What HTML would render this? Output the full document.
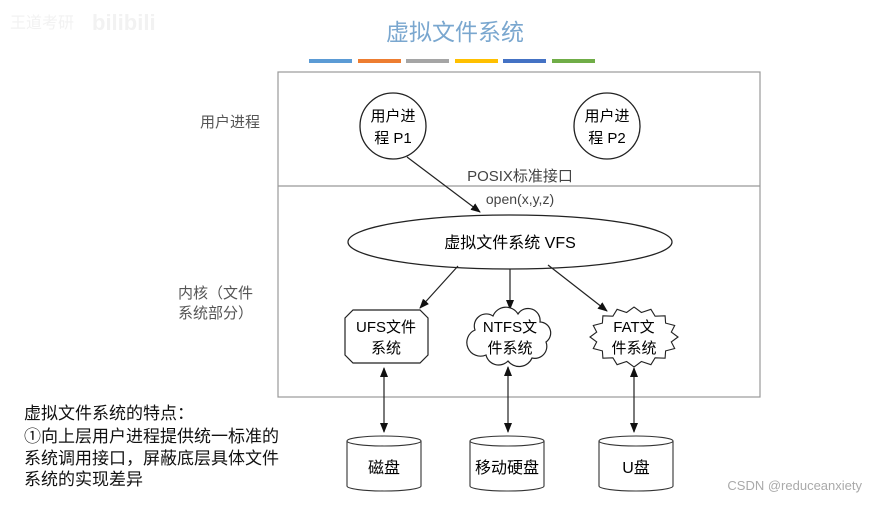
<!DOCTYPE html>
<html><head><meta charset="utf-8"><style>
html,body{margin:0;padding:0;background:#fff;}
svg text{font-family:"Liberation Sans","Noto Sans CJK SC",sans-serif;}
</style></head><body>
<svg width="875" height="500" viewBox="0 0 875 500" xmlns="http://www.w3.org/2000/svg">
<defs>
<marker id="a" markerWidth="10" markerHeight="10" refX="9" refY="5" orient="auto" markerUnits="userSpaceOnUse">
<path d="M0,1 L10,5 L0,9 z" fill="#111"/></marker>
<marker id="s" markerWidth="10" markerHeight="10" refX="1" refY="5" orient="auto" markerUnits="userSpaceOnUse">
<path d="M10,1 L0,5 L10,9 z" fill="#111"/></marker>
</defs>
<text x="10" y="28" font-size="16" fill="#f2f2f2">王道考研</text>
<text x="92" y="30" font-size="22" font-weight="bold" fill="#f2f2f2">bilibili</text>
<text x="455" y="40" font-size="23" fill="#7aa7cf" text-anchor="middle">虚拟文件系统</text>
<g>
<rect x="309" y="59" width="43" height="4" fill="#5b9bd5"/>
<rect x="358" y="59" width="43" height="4" fill="#ed7d31"/>
<rect x="406" y="59" width="43" height="4" fill="#a5a5a5"/>
<rect x="455" y="59" width="43" height="4" fill="#ffc000"/>
<rect x="503" y="59" width="43" height="4" fill="#4472c4"/>
<rect x="552" y="59" width="43" height="4" fill="#70ad47"/>
</g>
<rect x="278" y="72" width="482" height="325" fill="none" stroke="#999" stroke-width="1.2"/>
<line x1="278" y1="186" x2="760" y2="186" stroke="#999" stroke-width="1.2"/>
<text x="230" y="127" font-size="15" fill="#555" text-anchor="middle">用户进程</text>
<text x="178" y="298" font-size="15" fill="#555">内核（文件</text>
<text x="178" y="318" font-size="15" fill="#555">系统部分）</text>
<circle cx="393" cy="126" r="33" fill="#fff" stroke="#222" stroke-width="1.3"/>
<text x="393" y="121" font-size="15" text-anchor="middle">用户进</text>
<text x="393" y="143" font-size="15" text-anchor="middle">程 P1</text>
<circle cx="607" cy="126" r="33" fill="#fff" stroke="#222" stroke-width="1.3"/>
<text x="607" y="121" font-size="15" text-anchor="middle">用户进</text>
<text x="607" y="143" font-size="15" text-anchor="middle">程 P2</text>
<text x="520" y="181" font-size="15" fill="#444" text-anchor="middle">POSIX标准接口</text>
<text x="520" y="204" font-size="14" fill="#444" text-anchor="middle">open(x,y,z)</text>
<line x1="407" y1="157" x2="480" y2="212" stroke="#222" stroke-width="1.2" marker-end="url(#a)"/>
<ellipse cx="510" cy="242" rx="162" ry="27" fill="#fff" stroke="#222" stroke-width="1.3"/>
<text x="510" y="248" font-size="16" text-anchor="middle">虚拟文件系统 VFS</text>
<line x1="458" y1="266" x2="420" y2="308" stroke="#222" stroke-width="1.2" marker-end="url(#a)"/>
<line x1="510" y1="269" x2="510" y2="309" stroke="#222" stroke-width="1.2" marker-end="url(#a)"/>
<line x1="548" y1="265" x2="607" y2="311" stroke="#222" stroke-width="1.2" marker-end="url(#a)"/>
<polygon points="353,310 420,310 428,318 428,355 420,363 353,363 345,355 345,318" fill="#fff" stroke="#222" stroke-width="1.2"/>
<text x="386" y="332" font-size="15" text-anchor="middle">UFS文件</text>
<text x="386" y="353" font-size="15" text-anchor="middle">系统</text>
<path d="M475,330 a12,12 0 0 1 18,-14 a14,14 0 0 1 25,-2 a12,12 0 0 1 22,8 a11,11 0 0 1 6,20 a12,12 0 0 1 -14,16 a14,14 0 0 1 -24,3 a13,13 0 0 1 -22,-6 a11,11 0 0 1 -11,-25 z" fill="#fff" stroke="#222" stroke-width="1.2"/>
<text x="510" y="332" font-size="15" text-anchor="middle">NTFS文</text>
<text x="510" y="353" font-size="15" text-anchor="middle">件系统</text>
<polygon points="678,337 671.3,341.9 674.7,348.5 665.6,350.9 665.1,358.2 655.1,357.8 650.9,364.7 641.4,361.5 634,367 626.6,361.5 617.1,364.7 612.9,357.8 602.9,358.2 602.4,350.9 593.3,348.5 596.7,341.9 590,337 596.7,332.1 593.3,325.5 602.4,323.1 602.9,315.8 612.9,316.2 617.1,309.3 626.6,312.5 634,307 641.4,312.5 650.9,309.3 655.1,316.2 665.1,315.8 665.6,323.1 674.7,325.5 671.3,332.1" fill="#fff" stroke="#222" stroke-width="1.1"/>
<text x="634" y="332" font-size="15" text-anchor="middle">FAT文</text>
<text x="634" y="353" font-size="15" text-anchor="middle">件系统</text>
<g stroke="#222" stroke-width="1.2">
<line x1="384" y1="368" x2="384" y2="432" marker-start="url(#s)" marker-end="url(#a)"/>
<line x1="508" y1="367" x2="508" y2="432" marker-start="url(#s)" marker-end="url(#a)"/>
<line x1="634" y1="368" x2="634" y2="432" marker-start="url(#s)" marker-end="url(#a)"/>
</g>
<g fill="#fff" stroke="#333" stroke-width="1.1">
<path d="M347,441 L347,486 A37,5 0 0 0 421,486 L421,441"/><ellipse cx="384" cy="441" rx="37" ry="5"/>
<path d="M470,441 L470,486 A37,5 0 0 0 544,486 L544,441"/><ellipse cx="507" cy="441" rx="37" ry="5"/>
<path d="M599,441 L599,486 A37,5 0 0 0 673,486 L673,441"/><ellipse cx="636" cy="441" rx="37" ry="5"/>
</g>
<text x="384" y="473" font-size="16" text-anchor="middle">磁盘</text>
<text x="507" y="473" font-size="16" text-anchor="middle">移动硬盘</text>
<text x="636" y="473" font-size="16" text-anchor="middle">U盘</text>
<text x="24" y="419" font-size="17" fill="#111">虚拟文件系统的特点：</text>
<text x="24" y="442" font-size="17" fill="#111">①向上层用户进程提供统一标准的</text>
<text x="24" y="464" font-size="17" fill="#111">系统调用接口，屏蔽底层具体文件</text>
<text x="24" y="485" font-size="17" fill="#111">系统的实现差异</text>
<text x="862" y="490" font-size="13" fill="#aaa" text-anchor="end">CSDN @reduceanxiety</text>
</svg>
</body></html>
